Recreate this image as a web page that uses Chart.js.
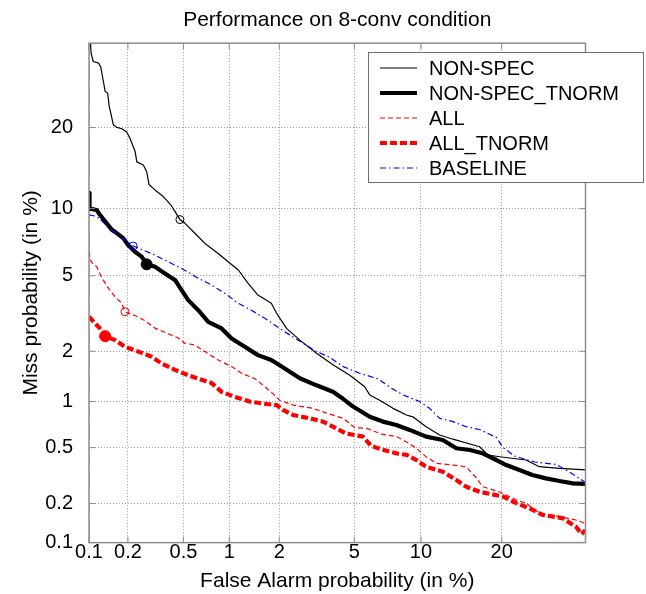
<!DOCTYPE html>
<html>
<head>
<meta charset="utf-8">
<title>Performance on 8-conv condition</title>
<script src="https://cdn.jsdelivr.net/npm/chart.js@4.4.1/dist/chart.umd.min.js"></script>
<style>
  html, body { margin: 0; padding: 0; background: #fff; }
</style>
</head>
<body>
<canvas id="det" width="646" height="594"></canvas>
<script>
'use strict';

/* ── Axis ticks (percent) ─────────────────────────────────────────────────── */
const tickPct  = [0.1, 0.2, 0.5, 1, 2, 5, 10, 20];
const tickText = ['0.1', '0.2', '0.5', '1', '2', '5', '10', '20'];
const axisMinPct = 0.1;
const axisMaxPct = 35;

/* ── DET curves: false alarm % / miss % ───────────────────────────────────── */
const nonSpecFa   = [0.1, 0.104, 0.108, 0.119, 0.124, 0.127, 0.134, 0.140, 0.144, 0.149, 0.155, 0.165, 0.180, 0.196, 0.207, 0.226, 0.233, 0.260, 0.275, 0.286, 0.316, 0.362, 0.41, 0.437, 0.473, 0.511, 0.598, 0.697, 0.851, 0.985, 1.14, 1.31, 1.50, 1.80, 1.93, 2.20, 2.61, 3.21, 3.91, 4.75, 5.61, 5.93, 6.59, 7.58, 8.67, 9.24, 10.5, 11.9, 13.4, 16.8, 17.95, 19.7, 23.9, 26.2, 29.9, 35];
const nonSpecMiss = [40, 33.0, 31.4, 31.1, 30.3, 28.9, 25.9, 25.6, 23.4, 22.0, 20.4, 20.0, 19.8, 19.3, 18.4, 16.6, 15.2, 14.8, 14.0, 12.5, 11.9, 11.2, 10.35, 9.75, 9.0, 8.7, 7.86, 7.08, 6.37, 5.83, 5.33, 4.59, 4.01, 3.64, 3.23, 2.68, 2.31, 1.95, 1.67, 1.45, 1.235, 1.10, 1.02, 0.906, 0.822, 0.80, 0.69, 0.608, 0.57, 0.507, 0.445, 0.433, 0.411, 0.369, 0.359, 0.350];

const nonSpecTnFa   = [0.1, 0.101, 0.115, 0.122, 0.134, 0.151, 0.160, 0.185, 0.201, 0.226, 0.253, 0.275, 0.316, 0.372, 0.437, 0.486, 0.539, 0.63, 0.733, 0.894, 1.035, 1.25, 1.50, 1.80, 2.15, 2.61, 3.21, 3.91, 4.40, 4.93, 5.93, 6.82, 7.84, 8.96, 10.5, 12.25, 13.8, 15.5, 17.2, 19.2, 20.7, 22.8, 25.0, 27.4, 29.9, 32.5, 35];
const nonSpecTnMiss = [11.6, 10.0, 9.87, 9.43, 8.85, 8.13, 7.97, 7.46, 6.95, 6.49, 6.16, 5.67, 5.52, 5.13, 4.77, 4.25, 3.78, 3.35, 2.91, 2.68, 2.36, 2.12, 1.90, 1.78, 1.59, 1.39, 1.26, 1.15, 1.04, 0.93, 0.80, 0.745, 0.708, 0.657, 0.593, 0.563, 0.495, 0.482, 0.457, 0.411, 0.379, 0.350, 0.322, 0.305, 0.292, 0.281, 0.278];

const allFa   = [0.1, 0.104, 0.115, 0.126, 0.142, 0.160, 0.180, 0.190, 0.226, 0.268, 0.316, 0.384, 0.458, 0.511, 0.598, 0.697, 0.851, 1.035, 1.195, 1.44, 1.61, 1.84, 2.01, 2.39, 3.08, 3.76, 4.40, 5.02, 5.73, 6.73, 7.86, 8.69, 9.56, 10.5, 11.54, 13.4, 15.0, 16.3, 17.2, 19.7, 22.3, 23.9, 26.2, 29.9, 33.1, 35];
const allMiss = [6.49, 5.83, 5.52, 4.90, 4.34, 3.93, 3.64, 3.29, 3.14, 2.95, 2.69, 2.52, 2.38, 2.22, 2.17, 1.99, 1.78, 1.63, 1.49, 1.38, 1.26, 1.12, 1.02, 0.951, 0.906, 0.833, 0.782, 0.681, 0.673, 0.617, 0.593, 0.546, 0.495, 0.433, 0.390, 0.379, 0.369, 0.310, 0.266, 0.243, 0.212, 0.201, 0.169, 0.159, 0.150, 0.141];

const allTnFa   = [0.1, 0.112, 0.122, 0.134, 0.160, 0.190, 0.239, 0.299, 0.352, 0.437, 0.539, 0.663, 0.771, 0.894, 1.085, 1.34, 1.69, 1.93, 2.10, 2.39, 2.95, 3.47, 4.07, 4.53, 5.51, 6.02, 7.07, 7.84, 8.73, 9.56, 10.5, 12.25, 13.8, 15.0, 16.8, 20.2, 22.3, 24.5, 26.8, 30.5, 33.1, 34.2, 35];
const allTnMiss = [3.10, 2.85, 2.68, 2.43, 2.31, 2.12, 1.99, 1.86, 1.70, 1.56, 1.45, 1.36, 1.30, 1.15, 1.07, 1.00, 0.965, 0.951, 0.885, 0.822, 0.782, 0.745, 0.673, 0.624, 0.593, 0.513, 0.476, 0.457, 0.445, 0.411, 0.369, 0.340, 0.297, 0.266, 0.244, 0.225, 0.201, 0.184, 0.164, 0.155, 0.133, 0.117, 0.125];

const baselineFa   = [0.1, 0.115, 0.134, 0.160, 0.190, 0.219, 0.253, 0.316, 0.392, 0.486, 0.63, 0.771, 0.939, 1.14, 1.37, 1.65, 2.01, 2.29, 2.72, 3.21, 3.76, 4.40, 5.31, 6.46, 7.47, 8.38, 9.88, 10.85, 11.9, 13.4, 15.0, 16.8, 19.2, 20.2, 22.0, 25.4, 29.3, 31.8, 35];
const baselineMiss = [9.43, 9.29, 8.61, 7.86, 7.33, 6.89, 6.65, 6.26, 5.83, 5.42, 4.86, 4.50, 4.09, 3.64, 3.35, 3.04, 2.68, 2.47, 2.22, 1.99, 1.85, 1.63, 1.49, 1.38, 1.21, 1.10, 1.00, 0.906, 0.782, 0.745, 0.69, 0.661, 0.585, 0.501, 0.438, 0.398, 0.383, 0.339, 0.285];

// operating-point markers, one per curve (same order as the legend)
const markerFa   = [0.473, 0.275, 0.190, 0.134, 0.219];
const markerMiss = [9.0, 5.67, 3.29, 2.43, 6.89];

/* ── Normal deviate (Acklam's inverse CDF) ─────────────────────────────────── */
function probit(p) {
  const a = [-3.969683028665376e+01, 2.209460984245205e+02, -2.759285104469687e+02, 1.383577518672690e+02, -3.066479806614716e+01, 2.506628277459239e+00];
  const b = [-5.447609879822406e+01, 1.615858368580409e+02, -1.556989798598866e+02, 6.680131188771972e+01, -1.328068155288572e+01];
  const c = [-7.784894002430293e-03, -3.223964580411365e-01, -2.400758277161838e+00, -2.549671348283239e+00, 4.374664141464968e+00, 2.938163982698783e+00];
  const d = [7.784695709041462e-03, 3.224671290700398e-01, 2.445134137142996e+00, 3.754408661907416e+00];
  const lo = 0.02425;
  if (p < lo) {
    const q = Math.sqrt(-2 * Math.log(p));
    return (((((c[0]*q+c[1])*q+c[2])*q+c[3])*q+c[4])*q+c[5]) / ((((d[0]*q+d[1])*q+d[2])*q+d[3])*q+1);
  }
  if (p <= 1 - lo) {
    const q = p - 0.5, r = q * q;
    return (((((a[0]*r+a[1])*r+a[2])*r+a[3])*r+a[4])*r+a[5])*q / (((((b[0]*r+b[1])*r+b[2])*r+b[3])*r+b[4])*r+1);
  }
  const q = Math.sqrt(-2 * Math.log(1 - p));
  return -(((((c[0]*q+c[1])*q+c[2])*q+c[3])*q+c[4])*q+c[5]) / ((((d[0]*q+d[1])*q+d[2])*q+d[3])*q+1);
}

const toPts = (fa, miss) => fa.map((f, i) => ({ x: probit(f / 100), y: probit(miss[i] / 100) }));

const FONT = "'Liberation Sans', Arial, Helvetica, sans-serif";

/* ── Curve styles (legend order) ───────────────────────────────────────────── */
const series = [
  { label: 'NON-SPEC',       fa: nonSpecFa,   miss: nonSpecMiss,   color: '#000000', width: 1.2, dash: [],           mark: 'open' },
  { label: 'NON-SPEC_TNORM', fa: nonSpecTnFa, miss: nonSpecTnMiss, color: '#000000', width: 4.2, dash: [],           mark: 'fill' },
  { label: 'ALL',            fa: allFa,       miss: allMiss,       color: '#ff0000', width: 1.2, dash: [5, 3],       mark: 'open' },
  { label: 'ALL_TNORM',      fa: allTnFa,     miss: allTnMiss,     color: '#ff0000', width: 4.2, dash: [7, 3],       mark: 'fill' },
  { label: 'BASELINE',       fa: baselineFa,  miss: baselineMiss,  color: '#0000ff', width: 1.2, dash: [6, 3, 1.5, 3], mark: 'open' },
];

const datasets = [];
series.forEach((s, i) => {
  datasets.push({
    label: s.label + ' point',
    data: [{ x: probit(markerFa[i] / 100), y: probit(markerMiss[i] / 100) }],
    showLine: false,
    pointRadius: s.mark === 'fill' ? 5.5 : 4,
    pointBorderWidth: 1,
    pointBorderColor: s.color,
    pointBackgroundColor: s.mark === 'fill' ? s.color : 'rgba(0,0,0,0)',
  });
});
// later entries are drawn underneath, so push the last legend entry first
[...series].reverse().forEach(s => {
  datasets.push({
    label: s.label,
    data: toPts(s.fa, s.miss),
    showLine: true,
    borderColor: s.color,
    borderWidth: s.width,
    borderDash: s.dash,
    borderJoinStyle: 'round',
    pointRadius: 0,
    tension: 0,
    fill: false,
  });
});

/* ── Frame, inward tick marks and boxed legend ─────────────────────────────── */
const frameLegend = {
  id: 'frameLegend',
  afterDraw(chart) {
    const { ctx, chartArea: a, scales: { x, y } } = chart;
    ctx.save();
    ctx.setLineDash([]);
    ctx.strokeStyle = '#8c8c8c';
    ctx.lineWidth = 1.5;
    ctx.strokeRect(a.left, a.top, a.right - a.left, a.bottom - a.top);

    ctx.lineWidth = 1;
    tickPct.forEach(v => {
      const px = x.getPixelForValue(probit(v / 100));
      const py = y.getPixelForValue(probit(v / 100));
      ctx.beginPath();
      ctx.moveTo(px, a.bottom); ctx.lineTo(px, a.bottom - 6);
      ctx.moveTo(px, a.top);    ctx.lineTo(px, a.top + 6);
      ctx.moveTo(a.left, py);   ctx.lineTo(a.left + 6, py);
      ctx.moveTo(a.right, py);  ctx.lineTo(a.right - 6, py);
      ctx.stroke();
    });

    // legend box
    const bx = 368, by = 52, bw = 275, bh = 130;
    ctx.fillStyle = '#ffffff';
    ctx.fillRect(bx, by, bw, bh);
    ctx.strokeStyle = '#6e6e6e';
    ctx.lineWidth = 1;
    ctx.strokeRect(bx + 0.5, by + 0.5, bw, bh);

    ctx.font = '20px ' + FONT;
    ctx.textBaseline = 'middle';
    ctx.textAlign = 'left';
    series.forEach((s, i) => {
      const ly = by + 16 + i * 25;
      ctx.beginPath();
      ctx.strokeStyle = s.color;
      ctx.lineWidth = s.width;
      ctx.setLineDash(s.dash);
      ctx.moveTo(380, ly);
      ctx.lineTo(417, ly);
      ctx.stroke();
      ctx.setLineDash([]);
      ctx.fillStyle = '#000';
      ctx.fillText(s.label, 429, ly + 1);
    });
    ctx.restore();
  },
};

const setTicks = scale => {
  scale.ticks = tickPct.map(v => ({ value: probit(v / 100) }));
};

const axisBase = {
  type: 'linear',
  min: probit(axisMinPct / 100),
  max: probit(axisMaxPct / 100),
  afterBuildTicks: setTicks,
  grid: { color: '#9a9a9a', lineWidth: 1, drawTicks: false },
  border: { display: false, dash: [1, 2] },
};

new Chart(document.getElementById('det'), {
  type: 'scatter',
  data: { datasets },
  plugins: [frameLegend],
  options: {
    responsive: false,
    animation: false,
    layout: { padding: { left: 0, right: 60.5, top: 0, bottom: 0 } },
    plugins: {
      legend: { display: false },
      tooltip: { enabled: false },
      title: {
        display: true,
        fullSize: false,
        text: 'Performance on 8-conv condition',
        color: '#000',
        font: { family: FONT, size: 21, weight: 'normal' },
        padding: { top: 8, bottom: 10 },
      },
    },
    scales: {
      x: {
        ...axisBase,
        afterFit: s => { s.height = 51.4; },
        ticks: {
          autoSkip: false, maxRotation: 0, padding: 0, color: '#000',
          font: { family: FONT, size: 20, lineHeight: 1 },
          callback: (v, i) => tickText[i],
        },
        title: {
          display: true,
          text: 'False Alarm probability (in %)',
          color: '#000',
          font: { family: FONT, size: 21 },
          padding: { top: 0, bottom: 0 },
        },
      },
      y: {
        ...axisBase,
        afterFit: s => { s.width = 89; },
        ticks: {
          autoSkip: false, padding: 16, color: '#000',
          font: { family: FONT, size: 20 },
          callback: (v, i) => tickText[i],
        },
        title: {
          display: true,
          text: 'Miss probability (in %)',
          color: '#000',
          font: { family: FONT, size: 21 },
          padding: { top: 18.4, bottom: 0 },
        },
      },
    },
  },
});
</script>
</body>
</html>
